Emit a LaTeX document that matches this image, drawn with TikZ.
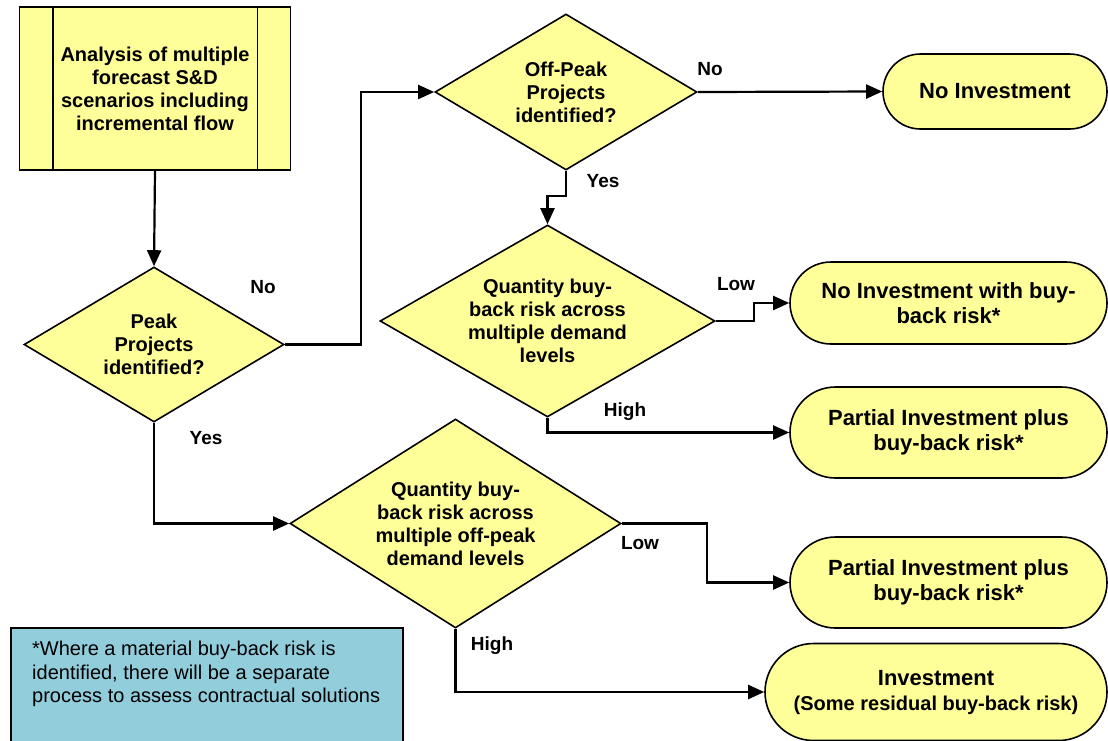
\documentclass[tikz,border=0pt]{standalone}
\usepackage{fontspec}
\setmainfont{Liberation Sans}
\usepackage{xcolor}
\usetikzlibrary{shapes.geometric,shapes.misc,arrows.meta,positioning,calc}
\definecolor{boxyellow}{HTML}{FFFF99}
\definecolor{noteblue}{HTML}{92CDDC}

\begin{document}
\begin{tikzpicture}[
    x=1pt, y=-1pt,
    decision/.style={diamond, draw, line width=1.6pt, fill=boxyellow, inner sep=0pt, align=center, font=\fontsize{20}{23}\selectfont\bfseries},
    terminal/.style={rounded rectangle, draw, line width=1.6pt, fill=boxyellow, inner sep=0pt, align=center, font=\fontsize{22}{25}\selectfont\bfseries},
    process/.style={rectangle, draw, line width=1.6pt, fill=boxyellow, inner sep=0pt, align=center, font=\fontsize{20}{23}\selectfont\bfseries},
    note/.style={rectangle, draw, line width=1.6pt, fill=noteblue, inner sep=0pt},
    arrow/.style={-{Triangle[length=16pt,width=14pt]}, line width=2.2pt},
    line/.style={line width=2.2pt},
    lbl/.style={font=\fontsize{19}{22}\selectfont\bfseries, inner sep=0pt}
]
\useasboundingbox (0,0) rectangle (1108,740);

% Start: analysis box
\node[process, minimum width=271pt, minimum height=163pt] (analysis) at (155,88.5) {Analysis of multiple\\forecast S\&D\\scenarios including\\incremental flow};
\draw[line width=1.6pt] ($(analysis.north west)+(34,0)$) -- ($(analysis.south west)+(34,0)$);
\draw[line width=1.6pt] ($(analysis.north east)+(-34,0)$) -- ($(analysis.south east)+(-34,0)$);

% Decisions
\node[decision, minimum width=260pt, minimum height=155pt, aspect=1.68] (peak) at (154,344.5) {Peak\\Projects\\identified?};
\node[decision, minimum width=262pt, minimum height=156pt, aspect=1.68] (offpeak) at (566,92) {Off-Peak\\Projects\\identified?};
\node[decision, minimum width=335pt, minimum height=192pt, aspect=1.745] (qpeak) at (547.5,321) {Quantity buy-\\back risk across\\multiple demand\\levels};
\node[decision, minimum width=331pt, minimum height=209pt, aspect=1.584] (qoff) at (455.5,523.5) {Quantity buy-\\back risk across\\multiple off-peak\\demand levels};

% Outcomes
\node[terminal, minimum width=224pt, minimum height=75pt] (noinv) at (995,91.5) {No Investment};
\node[terminal, minimum width=317pt, minimum height=82pt] (noinvrisk) at (948.5,303) {No Investment with buy-\\back risk*};
\node[terminal, minimum width=317pt, minimum height=91pt] (partpeak) at (948.5,432.5) {Partial Investment plus\\buy-back risk*};
\node[terminal, minimum width=317pt, minimum height=91pt] (partoff) at (948.5,582.5) {Partial Investment plus\\buy-back risk*};
\node[terminal, minimum width=342pt, minimum height=97pt] (inv) at (936,692) {Investment\\{\fontsize{20}{23}\selectfont (Some residual buy-back risk)}};

% Footnote
\node[note, anchor=north west, minimum width=392pt, minimum height=125pt] (noteframe) at (10,627) {};
\node[anchor=north west, inner sep=0pt, align=left, font=\fontsize{20}{23.5}\selectfont] (notetext) at (32,641) {*Where a material buy-back risk is\\identified, there will be a separate\\process to assess contractual solutions};

% Arrows
\draw[arrow] (analysis.south) -- (peak.north);
\draw[arrow] (peak.east) -- ++(76,0) |- (offpeak.west);
\draw[arrow] (peak.south) |- (qoff.west);
\draw[arrow] (offpeak.east) -- (noinv.west);
\draw[arrow] (offpeak.south) -- ++(0,25) -| (qpeak.north);
\draw[arrow] (qpeak.east) -- ++(38,0) |- (noinvrisk.west);
\draw[arrow] (qpeak.south) |- (partpeak.west);
\draw[arrow] (qoff.east) -- ++(85,0) |- (partoff.west);
\draw[arrow] (qoff.south) |- (inv.west);

% Branch labels
\node[lbl] (peakno) at (263,287) {No};
\node[lbl] (peakyes) at (206,438) {Yes};
\node[lbl] (offno) at (710,69) {No};
\node[lbl] (offyes) at (603,181) {Yes};
\node[lbl] (qpeaklow) at (736,284) {Low};
\node[lbl] (qpeakhigh) at (625,412) {High};
\node[lbl] (qofflow) at (640,543) {Low};
\node[lbl] (qoffhigh) at (492,646) {High};

\end{tikzpicture}
\end{document}
